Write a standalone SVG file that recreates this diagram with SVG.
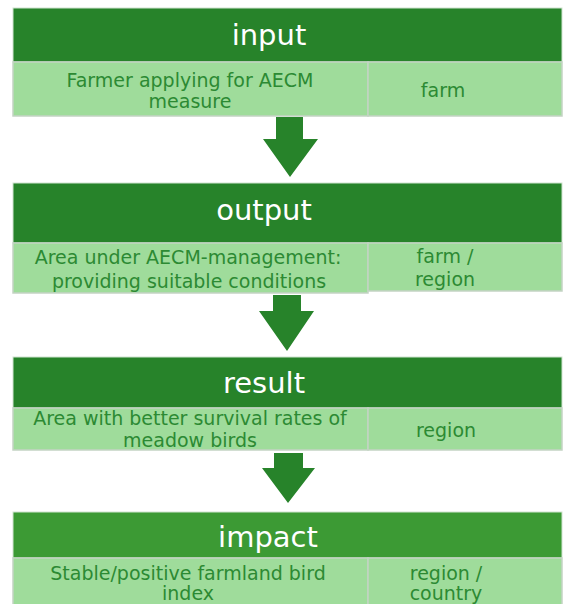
<svg xmlns="http://www.w3.org/2000/svg" width="563" height="604" viewBox="0 0 563 604">
  <style>
    .head { fill: #27832a; stroke: #cfe3cf; stroke-width: 1; }
    .head.alt { fill: #3c9a34; }
    .cell { fill: #9fdc9b; stroke: #c4d3c4; stroke-width: 1.5; }
    .title { font-family: "DejaVu Sans", Verdana, sans-serif; font-size: 29px; fill: #ffffff; text-anchor: middle; }
    .txt { font-family: "DejaVu Sans", Verdana, sans-serif; font-size: 19px; fill: #2c8a33; text-anchor: middle; }
    .arrow { fill: #27832a; }
  </style>
  <rect width="563" height="604" fill="#ffffff"/>

  <g id="input">
    <rect class="head" x="13" y="8" width="549" height="54"/>
    <text class="title" x="269" y="45">input</text>
    <rect class="cell" x="13" y="62" width="355" height="54"/>
    <rect class="cell" x="368" y="62" width="194" height="54"/>
    <text class="txt" x="190" y="87">Farmer applying for AECM</text>
    <text class="txt" x="190" y="108">measure</text>
    <text class="txt" x="443" y="97">farm</text>
  </g>

  <g id="output">
    <rect class="head" x="13" y="183" width="549" height="60"/>
    <text class="title" x="264" y="220">output</text>
    <rect class="cell" x="13" y="243" width="355" height="50"/>
    <rect class="cell" x="368" y="243" width="194" height="48"/>
    <text class="txt" x="188" y="264">Area under AECM-management:</text>
    <text class="txt" x="189" y="288">providing suitable conditions</text>
    <text class="txt" x="445" y="263">farm /</text>
    <text class="txt" x="445" y="286">region</text>
  </g>

  <g id="result">
    <rect class="head" x="13" y="357" width="549" height="51"/>
    <text class="title" x="264" y="393">result</text>
    <rect class="cell" x="13" y="408" width="355" height="42"/>
    <rect class="cell" x="368" y="408" width="194" height="42"/>
    <text class="txt" x="190" y="425">Area with better survival rates of</text>
    <text class="txt" x="190" y="447">meadow birds</text>
    <text class="txt" x="446" y="437">region</text>
  </g>

  <g id="impact">
    <rect class="head alt" x="13" y="512" width="549" height="46"/>
    <text class="title" x="268" y="547">impact</text>
    <rect class="cell" x="13" y="558" width="355" height="50"/>
    <rect class="cell" x="368" y="558" width="194" height="50"/>
    <text class="txt" x="188" y="580">Stable/positive farmland bird</text>
    <text class="txt" x="188" y="600">index</text>
    <text class="txt" x="446" y="580">region /</text>
    <text class="txt" x="446" y="600">country</text>
  </g>

  <g id="connectors">
    <polygon class="arrow" points="276,117 303,117 303,139 318,139 290,177 263,139 276,139"/>
    <polygon class="arrow" points="273,295 301,295 301,311 314,311 287,351 259,311 273,311"/>
    <polygon class="arrow" points="274,453 303,453 303,468 315,468 288,503 262,468 274,468"/>
  </g>
</svg>
